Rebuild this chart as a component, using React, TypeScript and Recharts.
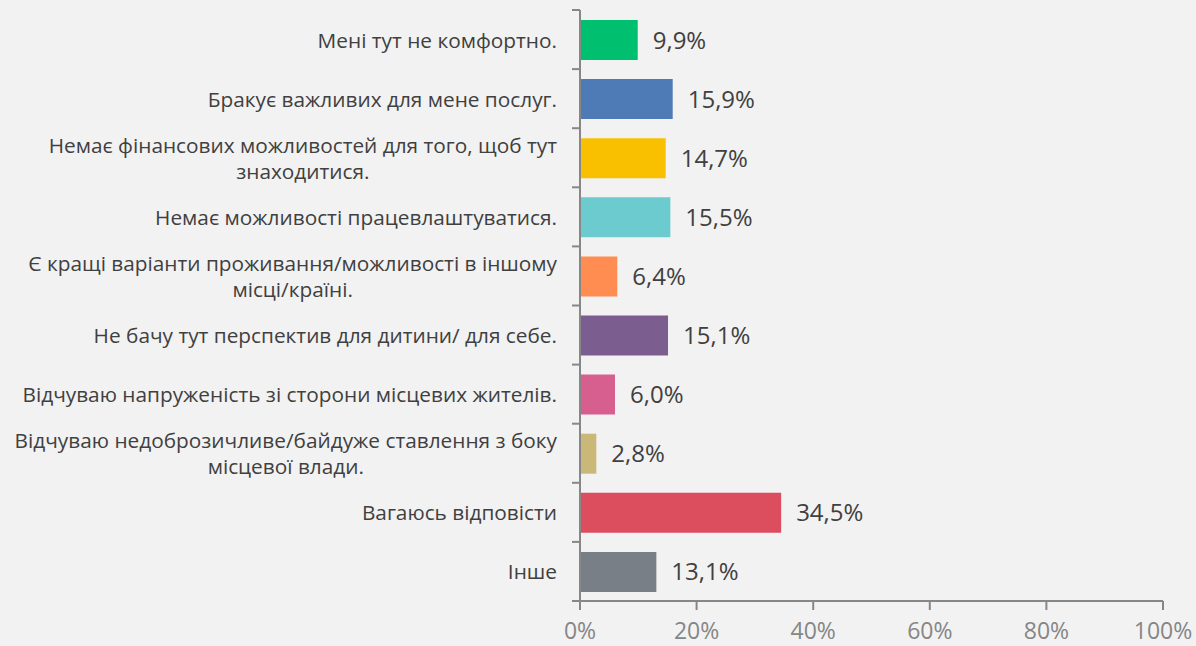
import React from 'react';
import { BarChart, Bar, XAxis, YAxis, Cell, LabelList } from 'recharts';

const categories = [
  'Мені тут не комфортно.',
  'Бракує важливих для мене послуг.',
  'Немає фінансових можливостей для того, щоб тут\nзнаходитися.',
  'Немає можливості працевлаштуватися.',
  'Є кращі варіанти проживання/можливості в іншому\nмісці/країні.',
  'Не бачу тут перспектив для дитини/ для себе.',
  'Відчуваю напруженість зі сторони місцевих жителів.',
  'Відчуваю недоброзичливе/байдуже ставлення з боку\nмісцевої влади.',
  'Вагаюсь відповісти',
  'Інше',
];
const values = [9.9, 15.9, 14.7, 15.5, 6.4, 15.1, 6.0, 2.8, 34.5, 13.1];
const colors = ['#00BF6F', '#4E7AB5', '#F9C000', '#6CCBCE', '#FF8C50', '#7C5D90', '#D65F8F', '#C9B878', '#DC4D5D', '#797F86'];
const xTicks = [0, 20, 40, 60, 80, 100];

const data = categories.map((name, i) => ({ name, value: values[i] }));

const FONT = "'Open Sans', 'Noto Sans', sans-serif";
const AXIS = '#878787';
const LABEL_SIZE = 20.8;

let ctx: CanvasRenderingContext2D | null = null;
function measure(t: string) {
  if (!ctx) ctx = document.createElement('canvas').getContext('2d');
  if (!ctx) return t.length * 10;
  ctx.font = `${LABEL_SIZE}px 'Open Sans'`;
  return ctx.measureText(t).width;
}

const YTick = (props: any) => {
  const { x, y, payload, index } = props;
  const half = payload && payload.offset ? payload.offset : 29.5;
  const lines = String(payload.value).split('\n');
  const maxW = Math.max(...lines.map(measure));
  const right = x - 23;
  const lh = 26;
  const startY = y - ((lines.length - 1) * lh) / 2;
  const anchorX = lines.length > 1 ? right - maxW / 2 : right;
  return (
    <g>
      <line x1={x - 8} x2={x} y1={y - half} y2={y - half} stroke={AXIS} strokeWidth={2} />
      {index === categories.length - 1 && (
        <line x1={x - 8} x2={x} y1={y + half} y2={y + half} stroke={AXIS} strokeWidth={2} />
      )}
      <text
        x={anchorX}
        y={startY}
        textAnchor={lines.length > 1 ? 'middle' : 'end'}
        dominantBaseline="central"
        fill="#404040"
        fontSize={LABEL_SIZE}
        fontFamily={FONT}
      >
        {lines.map((l, i) => (
          <tspan key={i} x={anchorX} y={startY + i * lh} dominantBaseline="central">
            {l}
          </tspan>
        ))}
      </text>
    </g>
  );
};

export default function App() {
  return (
    <div style={{ position: 'absolute', left: 0, top: 0, width: 1196, height: 646, background: '#F2F2F2' }}>
      <BarChart
        width={1196}
        height={646}
        data={data}
        layout="vertical"
        margin={{ top: 10, right: 33, left: 0, bottom: 0 }}
      >
        <XAxis
          type="number"
          domain={[0, 100]}
          ticks={xTicks}
          tickFormatter={(v: number) => `${v}%`}
          axisLine={{ stroke: AXIS, strokeWidth: 2 }}
          tickLine={{ stroke: AXIS, strokeWidth: 2 }}
          tickSize={9}
          tickMargin={13}
          height={45}
          tick={{ fill: '#868686', fontSize: 23, fontFamily: FONT }}
          interval={0}
        />
        <YAxis
          type="category"
          dataKey="name"
          width={580}
          axisLine={{ stroke: AXIS, strokeWidth: 2 }}
          tickLine={false}
          tickSize={0}
          tickMargin={0}
          tick={<YTick />}
          interval={0}
        />
        <Bar dataKey="value" barSize={40} isAnimationActive={false}>
          {data.map((d, i) => (
            <Cell key={i} fill={colors[i]} />
          ))}
          <LabelList
            dataKey="value"
            position="right"
            offset={15}
            formatter={(v: number) => `${v.toFixed(1).replace('.', ',')}%`}
            fill="#404040"
            fontSize={24}
            fontFamily={FONT}
          />
        </Bar>
      </BarChart>
    </div>
  );
}
